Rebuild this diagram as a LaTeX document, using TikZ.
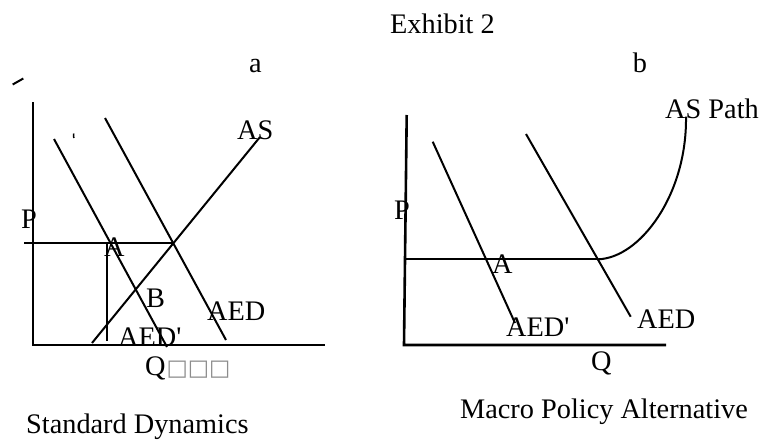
\documentclass[tikz,border=0pt]{standalone}
\usepackage{fontspec}
\setmainfont{Liberation Serif}
\newfontfamily\labfont{Liberation Serif}
\newfontfamily\boxfont{DejaVu Sans}
\begin{document}
\begin{tikzpicture}[x=1pt,y=-1pt,
  lbl/.style={inner sep=0pt,anchor=base west,font=\labfont\fontsize{28.3}{31}\selectfont},
  ax/.style={line width=2.6pt},
  ln/.style={line width=2pt}]
\useasboundingbox (0,0) rectangle (762,439);
% titles
\node[lbl] (title) at (390,33) {Exhibit 2};
\node[lbl,anchor=base] (la) at (255.5,72) {a};
\node[lbl,anchor=base] (lb) at (640,72) {b};
\node[lbl] (capa) at (26,433.5) {Standard Dynamics};
\node[lbl] (capb) at (460,418) {Macro Policy Alternative};
% ---------- panel a ----------
\coordinate (aO) at (33,345);
\coordinate (aY) at (33,102);
\coordinate (aX) at (325,345);
\draw[ax] (aY) -- (aO) -- (aX);
\coordinate (d1s) at (54,139);
\coordinate (d1e) at (167,347);
\draw[ln] (d1s) -- (d1e);
\coordinate (d0s) at (105,118);
\coordinate (d0e) at (226,340);
\draw[ln] (d0s) -- (d0e);
\coordinate (ass) at (92,343);
\coordinate (ase) at (260,137);
\draw[ln] (ass) -- (ase);
\coordinate (hP) at (24,243);
\coordinate (hE) at (173,243);
\draw[ln] (hP) -- (hE);
\coordinate (vT) at (107,243);
\coordinate (vB) at (107,341);
\draw[ln] (vT) -- (vB);
\coordinate (mk1) at (12.7,84.5);
\coordinate (mk2) at (23.3,78.5);
\draw[line width=2pt] (mk1) -- (mk2);
\coordinate (tk1) at (73.5,133.5);
\coordinate (tk2) at (73.8,138);
\draw[line width=1.5pt] (tk1) -- (tk2);
\node[lbl] (aP) at (21,228) {P};
\node[lbl] (aA) at (104,256.7) {A};
\node[lbl] (aB) at (146,307) {B};
\node[lbl] (aAED) at (207,320) {AED};
\node[lbl] (aAEDp) at (118,346) {AED'};
\node[lbl] (aAS) at (237,139) {AS};
\node[lbl] (aQ) at (145,375) {Q\hspace{1pt}{\boxfont\fontsize{22.5}{24}\selectfont\color{black!45}□□□}};
% ---------- panel b ----------
\coordinate (bO) at (404,345);
\coordinate (bY) at (406.7,115);
\coordinate (bX) at (666,345);
\draw[ax] (bY) -- (bO) -- (bX);
\coordinate (e1s) at (432.7,141.7);
\coordinate (e1e) at (515,323);
\draw[ln] (e1s) -- (e1e);
\coordinate (e0s) at (526,134);
\coordinate (e0e) at (630.7,316.7);
\draw[ln] (e0s) -- (e0e);
\coordinate (bhP) at (405,259.3);
\coordinate (bhE) at (598,259.3);
\draw[ln] (bhP) -- (bhE);
\coordinate (asT) at (686,116.7);
\draw[ln] (bhE) .. controls (640,258) and (687,195) .. (asT);
\node[lbl] (bP) at (394,219) {P};
\node[lbl] (bA) at (492,273) {A};
\node[lbl] (bAEDp) at (506,336) {AED'};
\node[lbl] (bAED) at (637,328) {AED};
\node[lbl] (bQ) at (591,370) {Q};
\node[lbl] (bAS) at (665,118) {AS Path};
\end{tikzpicture}
\end{document}
